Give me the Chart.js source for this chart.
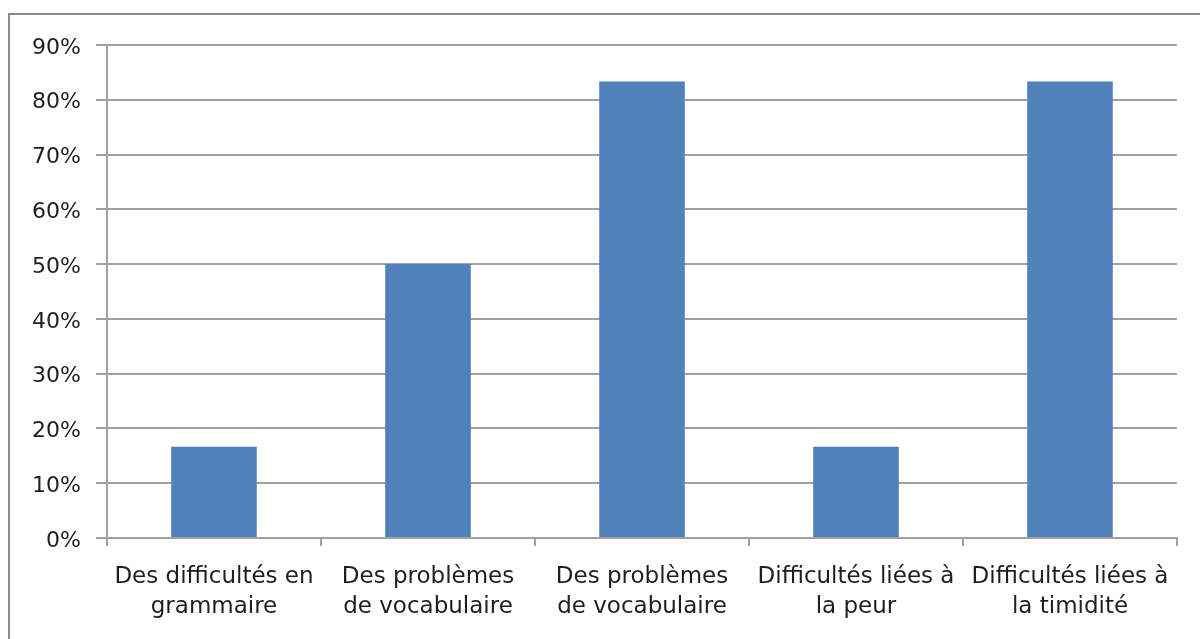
<!DOCTYPE html>
<html>
<head>
<meta charset="utf-8">
<script src="https://cdn.jsdelivr.net/npm/chart.js@4"></script>
<style>
    html, body { margin: 0; padding: 0; background: #fff; }
    #wrap { position: relative; width: 1200px; height: 639px; overflow: hidden; }
    #frame { position: absolute; left: 8px; top: 13px; width: 1300px; height: 700px; border: 2px solid #8a8a8a; }
    #chart { position: absolute; left: 0; top: 0; }
</style>
</head>
<body>
<div id="wrap">
    <div id="frame"></div>
    <canvas id="chart" width="1200" height="639"></canvas>
</div>
<script>
const categories = [
    ['Des difficultés en', 'grammaire'],
    ['Des problèmes', 'de vocabulaire'],
    ['Des problèmes', 'de vocabulaire'],
    ['Difficultés liées à', 'la peur'],
    ['Difficultés liées à', 'la timidité']
];
const values = [0.1667, 0.50, 0.8333, 0.1667, 0.8333];
const yTicks = [0, 0.1, 0.2, 0.3, 0.4, 0.5, 0.6, 0.7, 0.8, 0.9];

const gridColor = '#a0a0a0';
const textColor = '#1e1e1e';

new Chart(document.getElementById('chart'), {
    type: 'bar',
    data: {
        labels: categories,
        datasets: [{
            data: values,
            backgroundColor: '#4F81BD',
            barPercentage: 0.4,
            categoryPercentage: 1.0
        }]
    },
    options: {
        responsive: false,
        animation: false,
        layout: { padding: { top: 45, right: 23, left: 0, bottom: 0 } },
        plugins: {
            legend: { display: false },
            tooltip: { enabled: false }
        },
        scales: {
            x: {
                grid: {
                    display: true,
                    drawOnChartArea: false,
                    drawTicks: true,
                    tickLength: 8,
                    color: gridColor,
                    lineWidth: 2,
                    offset: true
                },
                border: { color: gridColor, width: 2 },
                ticks: {
                    color: textColor,
                    font: { family: 'DejaVu Sans', size: 23, lineHeight: 1.3 },
                    padding: 16,
                    maxRotation: 0,
                    autoSkip: false
                },
                afterFit(scale) { scale.height = 101; }
            },
            y: {
                min: 0,
                max: 0.9,
                afterBuildTicks(scale) {
                    scale.ticks = yTicks.map(v => ({ value: v }));
                },
                grid: {
                    color: gridColor,
                    lineWidth: 2,
                    tickLength: 11
                },
                border: { color: gridColor, width: 2 },
                ticks: {
                    color: textColor,
                    font: { family: 'DejaVu Sans', size: 22 },
                    padding: 15,
                    labelOffset: 3,
                    callback: v => Math.round(v * 100) + '%'
                },
                afterFit(scale) { scale.width = 107; }
            }
        }
    }
});
</script>
</body>
</html>
